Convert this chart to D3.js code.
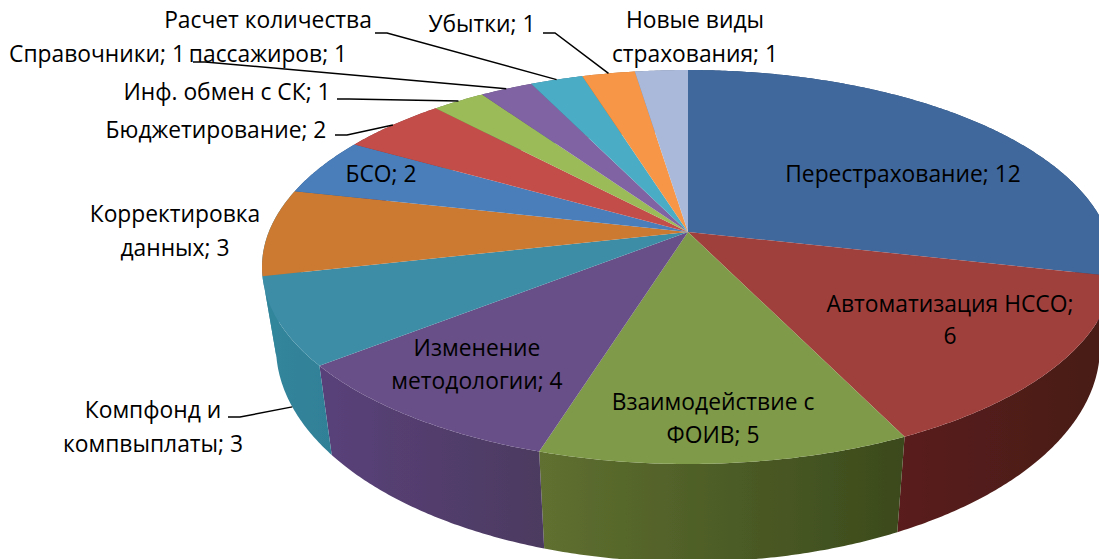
<!DOCTYPE html>
<html>
<head>
<meta charset="utf-8">
<script src="https://cdn.jsdelivr.net/npm/d3@7"></script>
<style>
    html, body { margin: 0; padding: 0; background: #fff; }
    svg { display: block; }
    text { font-family: "Open Sans", sans-serif; font-size: 22.8px; fill: #000; text-anchor: middle; }
</style>
</head>
<body>
<div id="chart"></div>
<script>
// slices, clockwise from 12 o'clock
const categories = ["Перестрахование", "Автоматизация НССО", "Взаимодействие с ФОИВ", "Изменение методологии",
    "Компфонд и компвыплаты", "Корректировка данных", "БСО", "Бюджетирование", "Инф. обмен с СК",
    "Справочники", "Расчет количества пассажиров", "Убытки", "Новые виды страхования"];
const values = [12, 6, 5, 4, 3, 3, 2, 2, 1, 1, 1, 1, 1];
const topColors = ["#3f689c", "#a03f3c", "#7f9a48", "#684f88", "#3d8da6", "#cc7a33", "#4a7ebb", "#c24e4a",
    "#9abb59", "#8064a2", "#4bacc6", "#f79646", "#aab9d9"];
// the orange wall only shows as a sliver on the left, which is teal in the picture
const wallLeft = ["#2c4a70", "#5a1f1c", "#5f7030", "#59417a", "#33869c", "#33869c", "#33587f", "#883633",
    "#6c833e", "#594671", "#34788b", "#ad6931", "#77819a"];
const wallRight = ["#2c4a70", "#471a17", "#3b4a1c", "#4c3a60", "#2f8097", "#33869c", "#33587f", "#883633",
    "#6c833e", "#594671", "#34788b", "#ad6931", "#77819a"];

// label lines: [text, centre x, baseline y]
const labelLines = [
    ["Перестрахование; 12", 903, 182],
    ["Автоматизация НССО;", 950, 312], ["6", 950, 344],
    ["Взаимодействие с", 713, 410], ["ФОИВ; 5", 713, 443],
    ["Изменение", 477, 356], ["методологии; 4", 477, 389],
    ["Компфонд и", 153, 418], ["компвыплаты; 3", 153, 452],
    ["Корректировка", 175, 222], ["данных; 3", 175, 256],
    ["БСО; 2", 381, 182],
    ["Бюджетирование; 2", 216, 138],
    ["Инф. обмен с СК; 1", 227, 100],
    ["Справочники; 1", 97, 62],
    ["Расчет количества", 268, 28], ["пассажиров; 1", 268, 62],
    ["Убытки; 1", 482, 32],
    ["Новые виды", 695, 28], ["страхования; 1", 695, 62]
];

// leader lines: slice index, start x, start y, how far down the wall it lands
const leaders = [
    [4, 228, 417, 1],
    [7, 335, 135, 0],
    [8, 337, 99, 0],
    [9, 193, 62, 0],
    [10, 375, 33, 0],
    [11, 543, 33, 0]
];

const width = 1099;
const height = 559;

// perspective discs: the apex of the slices sits off the ellipse centre.
// The lower disc is narrower and taller than the top one, as in the picture.
const apexX = 688;
const topDisc = { apexY: 232, up: 162, down: 232, halfWidth: 426 };
const lowDisc = { apexY: 309, up: 177, down: 253, halfWidth: 412 };

function project(disc, angle) {
    const k = (disc.down - disc.up) / (disc.down + disc.up);
    const b = disc.up * (1 + k);
    const a = disc.halfWidth * Math.sqrt(1 - k * k);
    const sx = Math.sin(angle);
    const sy = Math.cos(angle);
    const w = 1 + k * sy;
    return [apexX + a * sx / w, disc.apexY - b * sy / w];
}

// depth 0 = top rim, 1 = lower rim
function rim(angle, depth) {
    const p = project(topDisc, angle);
    if (!depth) return p;
    const q = project(lowDisc, angle);
    return [p[0] + (q[0] - p[0]) * depth, p[1] + (q[1] - p[1]) * depth];
}

const svg = d3.select("#chart")
    .append("svg")
    .attr("width", width)
    .attr("height", height);

const arcs = d3.pie().sort(null).startAngle(0).endAngle(2 * Math.PI)(values);
const line = d3.line();
const step = Math.PI / 360;

function rimPoints(d, depth) {
    const pts = d3.range(d.startAngle, d.endAngle, step).map(t => rim(t, depth));
    pts.push(rim(d.endAngle, depth));
    return pts;
}

// wall gradients, and a slight blur since the reference is a soft raster
const defs = svg.append("defs");
arcs.forEach((d, i) => {
    const g = defs.append("linearGradient").attr("id", "wall" + i);
    g.append("stop").attr("offset", "0%").attr("stop-color", wallLeft[i]);
    g.append("stop").attr("offset", "100%").attr("stop-color", wallRight[i]);
});
defs.append("filter").attr("id", "soft")
    .attr("x", "-2%").attr("y", "-2%").attr("width", "104%").attr("height", "104%")
    .append("feGaussianBlur").attr("stdDeviation", 0.7);

const pie = svg.append("g").attr("filter", "url(#soft)");

// walls go first so the top faces cover whatever is at the back
pie.append("g").selectAll("path")
    .data(arcs)
    .join("path")
    .attr("d", d => line(rimPoints(d, 0).concat(rimPoints(d, 1).reverse())) + "Z")
    .attr("fill", (d, i) => `url(#wall${i})`);

pie.append("g").selectAll("path")
    .data(arcs)
    .join("path")
    .attr("d", d => line([[apexX, topDisc.apexY]].concat(rimPoints(d, 0))) + "Z")
    .attr("fill", (d, i) => topColors[i]);

// leaders: short horizontal stub, then on to the slice rim
svg.append("g").selectAll("path")
    .data(leaders)
    .join("path")
    .attr("d", d => {
        const s = arcs[d[0]];
        const end = rim((s.startAngle + s.endAngle) / 2, d[3]);
        return line([[d[1], d[2]], [d[1] + 12, d[2]], end]);
    })
    .attr("fill", "none")
    .attr("stroke", "#000")
    .attr("stroke-width", 1.5);

svg.append("g").selectAll("text")
    .data(labelLines)
    .join("text")
    .attr("x", d => d[1])
    .attr("y", d => d[2])
    .text(d => d[0]);
</script>
</body>
</html>
